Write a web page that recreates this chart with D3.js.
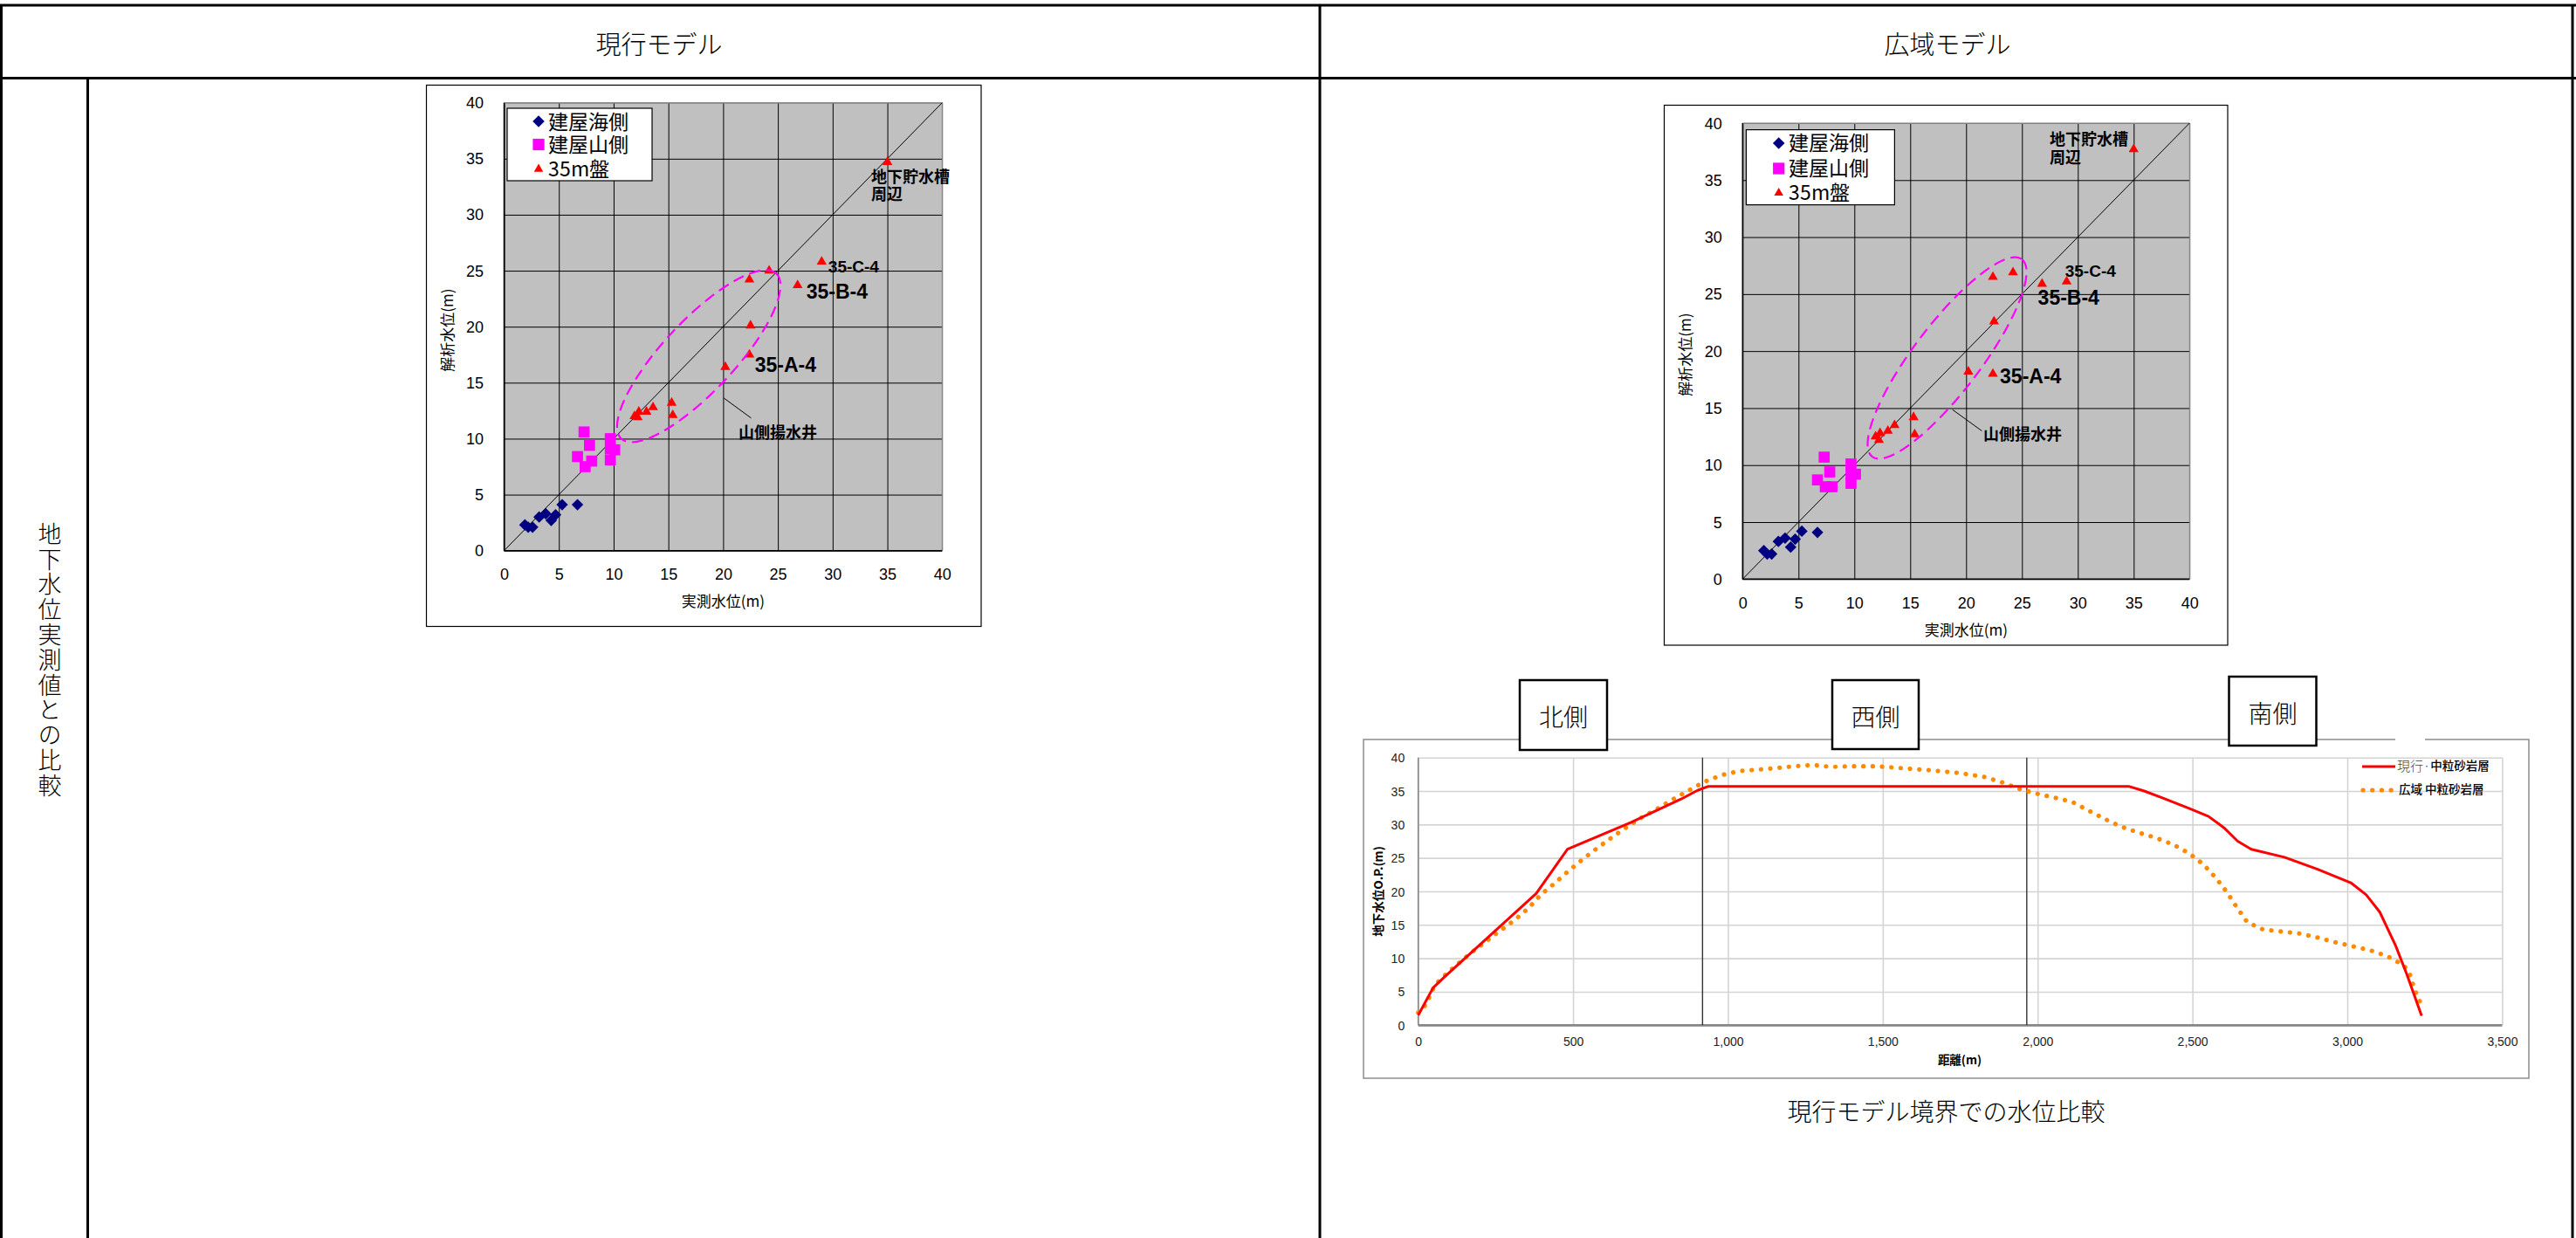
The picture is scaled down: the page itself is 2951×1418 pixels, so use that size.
<!DOCTYPE html>
<html>
<head>
<meta charset="utf-8">
<script src="https://cdn.jsdelivr.net/npm/d3@7"></script>
<style>
  /* Noto CJK with tighter line metrics, for closely stacked labels */
  @font-face {
    font-family: "JPTight";
    src: local("Noto Sans CJK JP Regular"), local("NotoSansCJKjp-Regular"), local("Noto Sans CJK JP");
    font-weight: 400;
    ascent-override: 88%; descent-override: 12%; line-gap-override: 0%;
  }
  @font-face {
    font-family: "JPTight";
    src: local("Noto Sans CJK JP Bold"), local("NotoSansCJKjp-Bold");
    font-weight: 700;
    ascent-override: 88%; descent-override: 12%; line-gap-override: 0%;
  }
  html, body { margin: 0; padding: 0; background: #fff; }
  svg { display: block; }
</style>
</head>
<body>
<svg id="sheet" width="2951" height="1418"></svg>
<script>
// ---------- data ----------
const scatterTicks = [0, 5, 10, 15, 20, 25, 30, 35, 40];
const seriesNames = ["建屋海側", "建屋山側", "35m盤"];

// measured water level (x) and simulated water level (y) for each model
const seaMeasured = [1.9, 2.2, 2.6, 3.2, 3.8, 4.3, 4.7, 5.3, 6.7];
const seaCurrent  = [2.3, 2.1, 2.1, 3.0, 3.3, 2.7, 3.2, 4.1, 4.1];
const seaWide     = [2.5, 2.2, 2.2, 3.3, 3.6, 2.8, 3.5, 4.2, 4.1];

const hillMeasured = [7.3, 7.8, 6.7, 7.4, 8.0, 9.7, 9.7, 9.7, 10.1];
const hillCurrent  = [10.6, 9.4, 8.4, 7.5, 8.0, 10.0, 9.1, 8.1, 9.0];
const hillWide     = [10.7, 9.4, 8.7, 8.1, 8.1, 10.1, 9.2, 8.4, 9.2];

const plateauMeasured = [11.9, 12.2, 12.3, 13.0, 13.6, 15.3, 15.4, 20.2, 22.4, 22.5, 22.4, 24.2, 26.8, 29.0, 35.0];
const plateauCurrent  = [12.0, 11.9, 12.4, 12.4, 12.8, 13.2, 12.1, 16.4, 17.5, 20.1, 24.2, 25.0, 23.7, 25.8, 34.7];
const plateauWide     = [12.5, 12.2, 12.8, 13.0, 13.5, 14.2, 12.7, 18.2, 18.0, 22.6, 26.5, 26.9, 25.9, 26.1, 37.7];

// groundwater level along the current-model boundary
const profileXTicks = [0, 500, 1000, 1500, 2000, 2500, 3000, 3500];
const profileYTicks = [0, 5, 10, 15, 20, 25, 30, 35, 40];
const profileNames = ["現行·中粒砂岩層", "広域 中粒砂岩層"];
const sideNames = ["北側", "西側", "南側"];
const boundaryDist = [918, 1965];

const distCurrent  = [0, 48, 82, 381, 482, 579, 686, 849, 902, 937, 2294, 2344, 2401, 2489, 2552, 2602, 2646, 2690, 2797, 2904, 3011, 3061, 3105, 3156, 3193, 3240];
const levelCurrent = [1.5, 5.6, 7.1, 19.7, 26.3, 28.2, 30.3, 33.8, 35.1, 35.7, 35.7, 35.0, 34.0, 32.4, 31.2, 29.5, 27.5, 26.3, 25.1, 23.3, 21.3, 19.5, 16.9, 11.9, 7.5, 1.4];

const distWide  = [0, 19, 34, 44, 60, 82, 126, 170, 218, 264, 311, 356, 396, 440, 484, 531, 576, 623, 673, 723, 774, 824, 874, 925, 981, 1038, 1126, 1214, 1275, 1334, 1390, 1478, 1566, 1654, 1747, 1828, 1885, 1942, 1998, 2055, 2111, 2164, 2218, 2268, 2325, 2382, 2438, 2489, 2536, 2574, 2611, 2642, 2677, 2728, 2788, 2847, 2904, 2961, 3017, 3074, 3130, 3181, 3199, 3218, 3240];
const levelWide = [1.9, 2.7, 4.0, 5.1, 6.3, 7.3, 9.1, 10.8, 12.5, 14.1, 15.7, 17.5, 19.5, 21.2, 23.0, 24.8, 26.4, 28.0, 29.6, 31.1, 32.4, 33.8, 35.1, 36.4, 37.4, 38.0, 38.3, 38.7, 38.9, 38.6, 38.7, 38.7, 38.4, 38.1, 37.7, 37.1, 36.3, 35.3, 34.6, 34.0, 33.4, 32.1, 30.8, 29.7, 28.8, 28.0, 27.0, 25.7, 24.0, 22.1, 19.9, 17.7, 15.4, 14.3, 14.0, 13.7, 13.1, 12.4, 11.8, 11.2, 10.3, 9.0, 8.0, 5.3, 2.9];

// ---------- drawing ----------
const JP = "'Noto Sans CJK JP', 'Noto Sans', sans-serif";
const JPT = "JPTight, 'Noto Sans CJK JP', sans-serif";
const LAT = "'Liberation Sans', Arial, sans-serif";
const NARROW = "'Liberation Sans Narrow', 'Liberation Sans', Arial, sans-serif";

const svg = d3.select("#sheet");

// table frame
const table = svg.append("g").attr("stroke", "#000").attr("stroke-width", 3);
table.append("line").attr("x1", 0).attr("x2", 2951).attr("y1", 6).attr("y2", 6);
table.append("line").attr("x1", 0).attr("x2", 2951).attr("y1", 89.5).attr("y2", 89.5);
table.append("line").attr("x1", 1.5).attr("x2", 1.5).attr("y1", 6).attr("y2", 1418);
table.append("line").attr("x1", 100.5).attr("x2", 100.5).attr("y1", 89.5).attr("y2", 1418);
table.append("line").attr("x1", 1512).attr("x2", 1512).attr("y1", 6).attr("y2", 1418);
table.append("line").attr("x1", 2947).attr("x2", 2947).attr("y1", 6).attr("y2", 1418);

const headers = [{ t: "現行モデル", x: 755 }, { t: "広域モデル", x: 2231 }];
svg.selectAll("text.header").data(headers).join("text")
  .attr("class", "header")
  .attr("x", d => d.x).attr("y", 49)
  .attr("text-anchor", "middle").attr("dominant-baseline", "central")
  .style("font-family", JP).style("font-size", "29px").style("font-weight", 300)
  .text(d => d.t);

// row label, set vertically
svg.append("text")
  .attr("x", 57).attr("y", 756.5)
  .attr("text-anchor", "middle")
  .style("writing-mode", "vertical-rl")
  .style("font-family", JP).style("font-size", "27px").style("font-weight", 300)
  .style("letter-spacing", "1.8px")
  .text("地下水位実測値との比較");

// ---------- scatter charts ----------
function drawScatter(cfg) {
  const g = svg.append("g");
  const p = cfg.plot;
  const x = d3.scaleLinear().domain([0, 40]).range([p.x0, p.x1]);
  const y = d3.scaleLinear().domain([0, 40]).range([p.y0, p.y1]);

  g.append("rect")
    .attr("x", cfg.box.x).attr("y", cfg.box.y).attr("width", cfg.box.w).attr("height", cfg.box.h)
    .attr("fill", "#fff").attr("stroke", "#000").attr("stroke-width", 1.2);

  g.append("rect")
    .attr("x", p.x0).attr("y", p.y1).attr("width", p.x1 - p.x0).attr("height", p.y0 - p.y1)
    .attr("fill", "#c0c0c0");

  // grid + tick labels from axes
  const gx = g.append("g").attr("transform", `translate(0,${p.y0})`)
    .call(d3.axisBottom(x).tickValues(scatterTicks).tickSize(-(p.y0 - p.y1)).tickFormat(d3.format("d")));
  const gy = g.append("g").attr("transform", `translate(${p.x0},0)`)
    .call(d3.axisLeft(y).tickValues(scatterTicks).tickSize(-(p.x1 - p.x0)).tickFormat(d3.format("d")));
  [gx, gy].forEach(a => {
    a.select(".domain").remove();
    a.selectAll(".tick line").attr("stroke", d => d === 40 ? "#808080" : "#000").attr("stroke-width", 1);
    a.selectAll(".tick text").attr("fill", "#000")
      .style("font-family", LAT).style("font-size", "18px");
  });
  gx.selectAll(".tick text").attr("y", 27.5).attr("dy", null).attr("dominant-baseline", "central");
  gy.selectAll(".tick text").attr("x", -23.5).attr("dy", null).attr("dominant-baseline", "central");

  // plot outline: axes black, far edges grey
  g.append("line").attr("x1", p.x0).attr("x2", p.x1).attr("y1", p.y1).attr("y2", p.y1).attr("stroke", "#808080");
  g.append("line").attr("x1", p.x1).attr("x2", p.x1).attr("y1", p.y1).attr("y2", p.y0).attr("stroke", "#808080");
  g.append("line").attr("x1", p.x0).attr("x2", p.x1).attr("y1", p.y0).attr("y2", p.y0).attr("stroke", "#000").attr("stroke-width", 1.5);
  g.append("line").attr("x1", p.x0).attr("x2", p.x0).attr("y1", p.y1).attr("y2", p.y0).attr("stroke", "#000").attr("stroke-width", 1.5);

  // 1:1 line
  g.append("line").attr("x1", x(0)).attr("y1", y(0)).attr("x2", x(40)).attr("y2", y(40))
    .attr("stroke", "#000").attr("stroke-width", 1);

  // axis titles
  g.append("text").attr("x", (p.x0 + p.x1) / 2).attr("y", p.y0 + 57)
    .attr("text-anchor", "middle").attr("dominant-baseline", "central")
    .style("font-family", JP).style("font-size", "17px").text("実測水位(m)");
  g.append("text")
    .attr("transform", `translate(${p.x0 - 66.5},${(p.y0 + p.y1) / 2 + 4}) rotate(-90)`)
    .attr("text-anchor", "middle").attr("dominant-baseline", "central")
    .style("font-family", JP).style("font-size", "17px").text("解析水位(m)");

  // markers
  const diamond = d3.symbol(d3.symbolSquare, 88)();
  const square = d3.symbol(d3.symbolSquare, 160)();
  const tri = d3.symbol(d3.symbolTriangle, 56)();

  g.selectAll("path.hill").data(d3.zip(hillMeasured, cfg.hill)).join("path")
    .attr("class", "hill").attr("d", square).attr("fill", "#ff00ff")
    .attr("transform", d => `translate(${x(d[0])},${y(d[1])})`);
  g.selectAll("path.sea").data(d3.zip(seaMeasured, cfg.sea)).join("path")
    .attr("class", "sea").attr("d", diamond).attr("fill", "#000080")
    .attr("transform", d => `translate(${x(d[0])},${y(d[1])}) rotate(45)`);
  g.selectAll("path.plateau").data(d3.zip(plateauMeasured, cfg.plateau)).join("path")
    .attr("class", "plateau").attr("d", tri).attr("fill", "#ff0000")
    .attr("transform", d => `translate(${x(d[0])},${y(d[1])})`);

  // dashed ellipse around the hill-side pumping wells
  const e = cfg.ellipse;
  const ax = x(e.a[0]), ay = y(e.a[1]), bx = x(e.b[0]), by = y(e.b[1]);
  const cx = (ax + bx) / 2, cy = (ay + by) / 2;
  const rx = Math.hypot(bx - ax, by - ay) / 2;
  const ry = e.half * (x(1) - x(0));
  const ang = Math.atan2(by - ay, bx - ax) * 180 / Math.PI;
  g.append("ellipse").attr("cx", 0).attr("cy", 0).attr("rx", rx).attr("ry", ry)
    .attr("transform", `translate(${cx},${cy}) rotate(${ang})`)
    .attr("fill", "none").attr("stroke", "#ff00ff").attr("stroke-width", 2.2)
    .attr("stroke-dasharray", "13 7");

  // leader line and annotations (multi-line notes use one text with tspans)
  const ld = cfg.leader;
  g.append("line").attr("x1", x(ld[0])).attr("y1", y(ld[1])).attr("x2", x(ld[2])).attr("y2", y(ld[3]))
    .attr("stroke", "#000").attr("stroke-width", 1);
  const notes = g.selectAll("text.note").data(cfg.notes).join("text")
    .attr("class", "note")
    .attr("dominant-baseline", "central")
    .style("font-family", d => d.latin ? LAT : JPT)
    .style("font-weight", 700).style("font-size", d => d.size + "px");
  notes.each(function (d) {
    const lines = [].concat(d.t), ys = [].concat(d.y);
    d3.select(this).selectAll("tspan").data(lines).join("tspan")
      .attr("x", x(d.x)).attr("y", (t, i) => y(ys[i]))
      .attr("dominant-baseline", "central")
      .text(t => t);
  });

  // legend
  const L = cfg.legend;
  const lg = g.append("g").attr("transform", `translate(${L.x},${L.y})`);
  lg.append("rect").attr("width", L.w).attr("height", L.h)
    .attr("fill", "#fff").attr("stroke", "#000").attr("stroke-width", 1.2);
  const legendShapes = [
    { d: d3.symbol(d3.symbolSquare, 92)(), fill: "#000080", rot: 45 },
    { d: d3.symbol(d3.symbolSquare, 175)(), fill: "#ff00ff", rot: 0 },
    { d: d3.symbol(d3.symbolTriangle, 48)(), fill: "#ff0000", rot: 0 }
  ];
  seriesNames.forEach((name, i) => {
    lg.append("path").attr("d", legendShapes[i].d).attr("fill", legendShapes[i].fill)
      .attr("transform", `translate(${L.mx},${L.rows[i]}) rotate(${legendShapes[i].rot})`);
  });
  lg.selectAll("text.entry").data(seriesNames).join("text")
    .attr("class", "entry")
    .attr("x", L.tx).attr("y", (d, i) => L.rows[i])
    .attr("dominant-baseline", "central")
    .style("font-family", JPT).style("font-size", "23px")
    .text(d => d);
}

drawScatter({
  box: { x: 488.5, y: 97.5, w: 635.5, h: 620 },
  plot: { x0: 577.5, x1: 1079.3, y0: 630.7, y1: 117.7 },
  legend: { x: 581, y: 124, w: 166, h: 83, mx: 36, tx: 47, rows: [15, 41.5, 69.6] },
  sea: seaCurrent, hill: hillCurrent, plateau: plateauCurrent,
  ellipse: { a: [10.7, 10.0], b: [24.85, 24.75], half: 3.25 },
  leader: [20.06, 13.63, 22.56, 11.84],
  notes: [
    { t: ["地下貯水槽", "周辺"], x: 33.5, y: [33.4, 31.85], size: 18 },
    { t: "35-C-4", x: 29.6, y: 25.4, size: 19, latin: true },
    { t: "35-B-4", x: 27.6, y: 23.1, size: 23, latin: true },
    { t: "35-A-4", x: 22.9, y: 16.6, size: 23, latin: true },
    { t: "山側揚水井", x: 21.4, y: 10.56, size: 18 }
  ]
});

drawScatter({
  box: { x: 1906.5, y: 120.5, w: 645.5, h: 618.5 },
  plot: { x0: 1996.3, x1: 2508.3, y0: 663.3, y1: 141 },
  legend: { x: 2000.4, y: 148.6, w: 170, h: 86, mx: 37.3, tx: 49, rows: [15.4, 44.4, 72.4] },
  sea: seaWide, hill: hillWide, plateau: plateauWide,
  ellipse: { a: [11.6, 10.74], b: [25.0, 28.05], half: 3.0 },
  leader: [18.79, 14.86, 21.41, 13.0],
  notes: [
    { t: ["地下貯水槽", "周辺"], x: 27.5, y: [38.6, 37.05], size: 18 },
    { t: "35-C-4", x: 28.86, y: 27.06, size: 19, latin: true },
    { t: "35-B-4", x: 26.43, y: 24.67, size: 23, latin: true },
    { t: "35-A-4", x: 23.03, y: 17.77, size: 23, latin: true },
    { t: "山側揚水井", x: 21.54, y: 12.76, size: 18 }
  ]
});

// ---------- boundary profile chart ----------
const pg = svg.append("g");
const px = d3.scaleLinear().domain([0, 3500]).range([1624.7, 2866.4]);
const py = d3.scaleLinear().domain([0, 40]).range([1174.3, 867.7]);

pg.append("rect").attr("x", 1562).attr("y", 847).attr("width", 1335).attr("height", 388)
  .attr("fill", "#fff").attr("stroke", "#8c8c8c").attr("stroke-width", 1.5);

const pgx = pg.append("g").attr("transform", `translate(0,${py(0)})`)
  .call(d3.axisBottom(px).tickValues(profileXTicks).tickSize(-(py(0) - py(40))).tickFormat(d3.format(",")));
const pgy = pg.append("g").attr("transform", `translate(${px(0)},0)`)
  .call(d3.axisLeft(py).tickValues(profileYTicks).tickSize(-(px(3500) - px(0))).tickFormat(d3.format("d")));
[pgx, pgy].forEach(a => {
  a.select(".domain").remove();
  a.selectAll(".tick line").attr("stroke", "#d4d4d4").attr("stroke-width", 1.6);
  a.selectAll(".tick text").attr("fill", "#222")
    .style("font-family", NARROW).style("font-size", "14px");
});
pgx.selectAll(".tick text").attr("y", 19).attr("dy", null).attr("dominant-baseline", "central");
pgy.selectAll(".tick text").attr("x", -15.5).attr("dy", null).attr("dominant-baseline", "central");

pg.append("line").attr("x1", px(0)).attr("x2", px(0)).attr("y1", py(40)).attr("y2", py(0))
  .attr("stroke", "#888").attr("stroke-width", 1.6);
pg.append("line").attr("x1", px(0)).attr("x2", px(3500)).attr("y1", py(0)).attr("y2", py(0))
  .attr("stroke", "#888").attr("stroke-width", 2.8);

// model boundary positions
pg.selectAll("line.bound").data(boundaryDist).join("line")
  .attr("class", "bound")
  .attr("x1", d => px(d)).attr("x2", d => px(d)).attr("y1", py(40)).attr("y2", py(0))
  .attr("stroke", "#333").attr("stroke-width", 1.4);

const lineGen = d3.line().x(d => px(d[0])).y(d => py(d[1]));
pg.append("path").datum(d3.zip(distWide, levelWide)).attr("d", lineGen)
  .attr("fill", "none").attr("stroke", "#ff8a00").attr("stroke-width", 5.2)
  .attr("stroke-linecap", "round").attr("stroke-linejoin", "round").attr("stroke-dasharray", "0.1 10.6");
pg.append("path").datum(d3.zip(distCurrent, levelCurrent)).attr("d", lineGen)
  .attr("fill", "none").attr("stroke", "#ff0000").attr("stroke-width", 3)
  .attr("stroke-linejoin", "round");

// axis titles
pg.append("text").attr("transform", `translate(1578,1021) rotate(-90)`)
  .attr("text-anchor", "middle").attr("dominant-baseline", "central")
  .style("font-family", JP).style("font-weight", 700).style("font-size", "13.5px")
  .text("地下水位O.P.(m)");
pg.append("text").attr("x", 2245).attr("y", 1213)
  .attr("text-anchor", "middle").attr("dominant-baseline", "central")
  .style("font-family", JP).style("font-weight", 700).style("font-size", "13.5px")
  .text("距離(m)");

// legend
pg.append("rect").attr("x", 2744).attr("y", 843).attr("width", 34).attr("height", 9).attr("fill", "#fff");
pg.append("line").attr("x1", 2706).attr("x2", 2744).attr("y1", 878).attr("y2", 878)
  .attr("stroke", "#ff0000").attr("stroke-width", 3);
pg.append("line").attr("x1", 2707).attr("x2", 2742).attr("y1", 905).attr("y2", 905)
  .attr("stroke", "#ff8a00").attr("stroke-width", 5.2).attr("stroke-linecap", "round")
  .attr("stroke-dasharray", "0.1 10.6");
const lt1 = pg.append("text").attr("x", 2746).attr("y", 876).attr("dominant-baseline", "central");
lt1.append("tspan").style("font-family", JP).style("font-size", "15px").style("font-weight", 300)
  .attr("fill", "#444").text(profileNames[0].slice(0, 3));
lt1.append("tspan").style("font-family", JP).style("font-size", "13.5px").style("font-weight", 500)
  .text(profileNames[0].slice(3));
pg.append("text").attr("x", 2748).attr("y", 903).attr("dominant-baseline", "central")
  .style("font-family", JP).style("font-size", "13.5px").style("font-weight", 500)
  .text(profileNames[1]);

// side labels in boxes above the chart
const sideBoxes = [
  { x: 1741, y: 779, w: 100, h: 80 },
  { x: 2099, y: 779, w: 99, h: 79 },
  { x: 2553.5, y: 775, w: 100, h: 79 }
];
sideNames.forEach((name, i) => {
  const b = sideBoxes[i];
  pg.append("rect").attr("x", b.x).attr("y", b.y).attr("width", b.w).attr("height", b.h)
    .attr("fill", "#fff").attr("stroke", "#000").attr("stroke-width", 2.5);
  pg.append("text").attr("x", b.x + b.w / 2).attr("y", b.y + b.h / 2 + 1)
    .attr("text-anchor", "middle").attr("dominant-baseline", "central")
    .style("font-family", JP).style("font-size", "28px").style("font-weight", 300)
    .text(name);
});

// caption
svg.append("text").attr("x", 2229.5).attr("y", 1272)
  .attr("text-anchor", "middle").attr("dominant-baseline", "central")
  .style("font-family", JP).style("font-size", "28px").style("font-weight", 300)
  .text("現行モデル境界での水位比較");
</script>
</body>
</html>
